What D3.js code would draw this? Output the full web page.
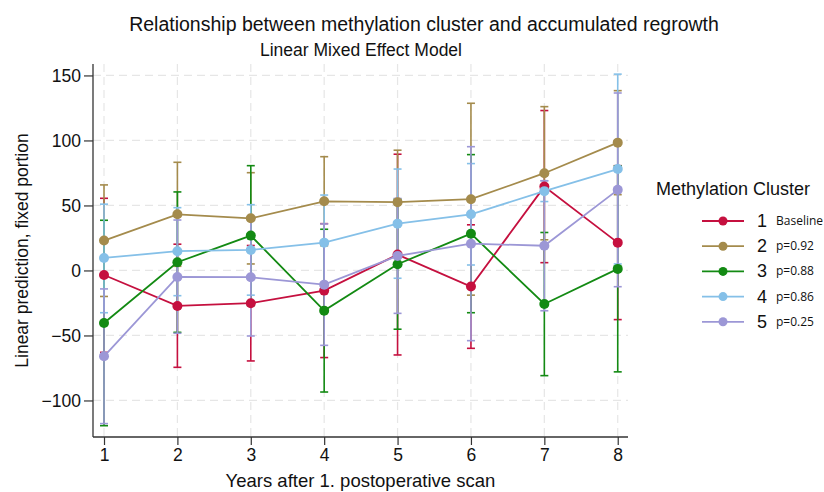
<!DOCTYPE html>
<html lang="en">
<head>
  <meta charset="UTF-8">
  <title>Methylation cluster and accumulated regrowth</title>
  <script src="https://d3js.org/d3.v7.min.js"></script>
  <style>
    body { margin: 0; background: #fff; }
    svg { font-family: "Liberation Sans", Arial, sans-serif; }
  </style>
</head>
<body>
  <script>
    "use strict";
    // Years after scan
    var years = [1, 2, 3, 4, 5, 6, 7, 8];
    var clusterNames = ["1", "2", "3", "4", "5"];
    var clusterNotes = ["Baseline", "p=0.92", "p=0.88", "p=0.86", "p=0.25"];
    var clusterColors = ["#c5103f", "#a48b4c", "#138a13", "#85c0e8", "#9c97d6"];

    // Estimates and 95% CI bounds
    var est1 = [-3.5, -27.3, -25.2, -15.5, 12.2, -12.4, 64.5, 21.4];
    var lo1 = [-63, -74.5, -69.6, -67, -65, -59.9, 6, -37.8];
    var hi1 = [55.5, 20.2, 19.2, 36, 89.4, 35.1, 123, 80.6];

    var est2 = [23, 43.2, 40.1, 53.2, 52.5, 54.8, 74.8, 98.3];
    var lo2 = [-20, 3.2, 5, 19, 12.5, -19, 23.6, 58.3];
    var hi2 = [65.8, 83.2, 75.2, 87.5, 92.5, 128.6, 126, 138.3];

    var est3 = [-40.4, 6.3, 26.8, -30.9, 4.8, 28.3, -25.8, 1.2];
    var lo3 = [-119.4, -47.6, -27, -93.5, -45.2, -32.5, -80.9, -78];
    var hi3 = [38.6, 60.4, 80.6, 31.7, 54.8, 89.1, 29.2, 80.4];

    var est4 = [9.6, 14.8, 15.8, 21.4, 36, 43.2, 61, 78];
    var lo4 = [-32.5, -19.4, -19, -15.2, -6, 4.2, 53, 5];
    var hi4 = [51, 48.3, 50.6, 58, 78, 82.2, 69, 151];

    var est5 = [-66, -5, -5.2, -10.9, 11.2, 20.6, 19, 62];
    var lo5 = [-117.8, -48.3, -50.4, -57.6, -33, -54, -31, -12.5];
    var hi5 = [-14.2, 38.8, 40, 35.8, 55.4, 95.2, 69, 136.5];

    var yTicks = [-100, -50, 0, 50, 100, 150];

    var series = [
      { est: est1, lo: lo1, hi: hi1 },
      { est: est2, lo: lo2, hi: hi2 },
      { est: est3, lo: lo3, hi: hi3 },
      { est: est4, lo: lo4, hi: hi4 },
      { est: est5, lo: lo5, hi: hi5 }
    ];

    var width = 824, height = 492;
    var plotLeft = 93, plotRight = 628, plotTop = 64, plotBottom = 437;

    var svg = d3.select("body").append("svg")
      .attr("width", width)
      .attr("height", height);

    var x = d3.scaleLinear().domain([0.85, 8.14]).range([plotLeft, plotRight]);
    var y = d3.scaleLinear().domain([-128.1, 158.8]).range([plotBottom, plotTop]);

    // Grid lines
    svg.append("g").selectAll("line")
      .data(yTicks)
      .enter().append("line")
      .attr("x1", plotLeft).attr("x2", plotRight)
      .attr("y1", function (d) { return y(d); })
      .attr("y2", function (d) { return y(d); })
      .attr("stroke", "#e6e6e6")
      .attr("stroke-width", 1.2)
      .attr("stroke-dasharray", "8,5");
    svg.append("g").selectAll("line")
      .data(years)
      .enter().append("line")
      .attr("y1", plotTop).attr("y2", plotBottom)
      .attr("x1", function (d) { return x(d); })
      .attr("x2", function (d) { return x(d); })
      .attr("stroke", "#e6e6e6")
      .attr("stroke-width", 1.2)
      .attr("stroke-dasharray", "8,5");

    // Axes
    var yAxis = d3.axisLeft(y).tickValues(yTicks).tickSize(9).tickPadding(3);
    var xAxis = d3.axisBottom(x).tickValues(years).tickSize(8).tickPadding(4);

    var gy = svg.append("g").attr("transform", "translate(" + plotLeft + ",0)").call(yAxis);
    var gx = svg.append("g").attr("transform", "translate(0," + plotBottom + ")").call(xAxis);
    [gy, gx].forEach(function (g) {
      g.select(".domain").remove();
      g.selectAll(".tick line").attr("stroke", "#333").attr("stroke-width", 1.2);
      g.selectAll(".tick text")
        .attr("fill", "#111")
        .attr("font-size", "17.5px")
        .attr("font-family", "Liberation Sans, Arial, sans-serif");
    });
    svg.append("line")
      .attr("x1", plotLeft).attr("x2", plotLeft).attr("y1", plotTop).attr("y2", plotBottom)
      .attr("stroke", "#333").attr("stroke-width", 1.3);
    svg.append("line")
      .attr("x1", plotLeft).attr("x2", plotRight).attr("y1", plotBottom).attr("y2", plotBottom)
      .attr("stroke", "#333").attr("stroke-width", 1.3);

    // Error bars (drawn for all clusters before the lines)
    var cap = 4;
    series.forEach(function (s, k) {
      var g = svg.append("g")
        .attr("stroke", clusterColors[k])
        .attr("stroke-width", 1.6)
        .attr("fill", "none");
      years.forEach(function (yr, i) {
        var cx = x(yr);
        g.append("line")
          .attr("x1", cx).attr("x2", cx)
          .attr("y1", y(s.lo[i])).attr("y2", y(s.hi[i]));
        g.append("line")
          .attr("x1", cx - cap).attr("x2", cx + cap)
          .attr("y1", y(s.lo[i])).attr("y2", y(s.lo[i]));
        g.append("line")
          .attr("x1", cx - cap).attr("x2", cx + cap)
          .attr("y1", y(s.hi[i])).attr("y2", y(s.hi[i]));
      });
    });

    // Connected lines with markers
    var line = d3.line()
      .x(function (d, i) { return x(years[i]); })
      .y(function (d) { return y(d); });

    series.forEach(function (s, k) {
      svg.append("path")
        .datum(s.est)
        .attr("fill", "none")
        .attr("stroke", clusterColors[k])
        .attr("stroke-width", 1.8)
        .attr("d", line);
      svg.append("g").selectAll("circle")
        .data(s.est)
        .enter().append("circle")
        .attr("cx", function (d, i) { return x(years[i]); })
        .attr("cy", function (d) { return y(d); })
        .attr("r", 5)
        .attr("fill", clusterColors[k]);
    });

    // Titles
    svg.append("text")
      .attr("x", 424).attr("y", 31)
      .attr("text-anchor", "middle")
      .attr("font-size", "19.5px")
      .attr("fill", "#111")
      .text("Relationship between methylation cluster and accumulated regrowth");
    svg.append("text")
      .attr("x", 361).attr("y", 56)
      .attr("text-anchor", "middle")
      .attr("font-size", "17.5px")
      .attr("fill", "#111")
      .text("Linear Mixed Effect Model");

    svg.append("text")
      .attr("transform", "translate(28," + ((plotTop + plotBottom) / 2) + ") rotate(-90)")
      .attr("text-anchor", "middle")
      .attr("font-size", "17.5px")
      .attr("fill", "#111")
      .text("Linear prediction, fixed portion");
    svg.append("text")
      .attr("x", (plotLeft + plotRight) / 2).attr("y", 487)
      .attr("text-anchor", "middle")
      .attr("font-size", "18.5px")
      .attr("fill", "#111")
      .text("Years after 1. postoperative scan");

    // Legend
    svg.append("text")
      .attr("x", 656).attr("y", 195)
      .attr("font-size", "18px")
      .attr("fill", "#111")
      .text("Methylation Cluster");

    var leg = svg.append("g").selectAll("g")
      .data(clusterNames)
      .enter().append("g")
      .attr("transform", function (d, i) { return "translate(0," + (221 + i * 25.2) + ")"; });
    leg.append("line")
      .attr("x1", 702).attr("x2", 744)
      .attr("stroke", function (d, i) { return clusterColors[i]; })
      .attr("stroke-width", 1.8);
    leg.append("circle")
      .attr("cx", 723).attr("r", 4.5)
      .attr("fill", function (d, i) { return clusterColors[i]; });
    leg.append("text")
      .attr("x", 757).attr("y", 6)
      .attr("font-size", "18px")
      .attr("fill", "#111")
      .text(function (d) { return d; });
    leg.append("text")
      .attr("x", 776).attr("y", 4)
      .attr("font-size", "12px")
      .attr("font-family", "Open Sans, sans-serif")
      .attr("fill", "#111")
      .text(function (d, i) { return clusterNotes[i]; });
  </script>
</body>
</html>
